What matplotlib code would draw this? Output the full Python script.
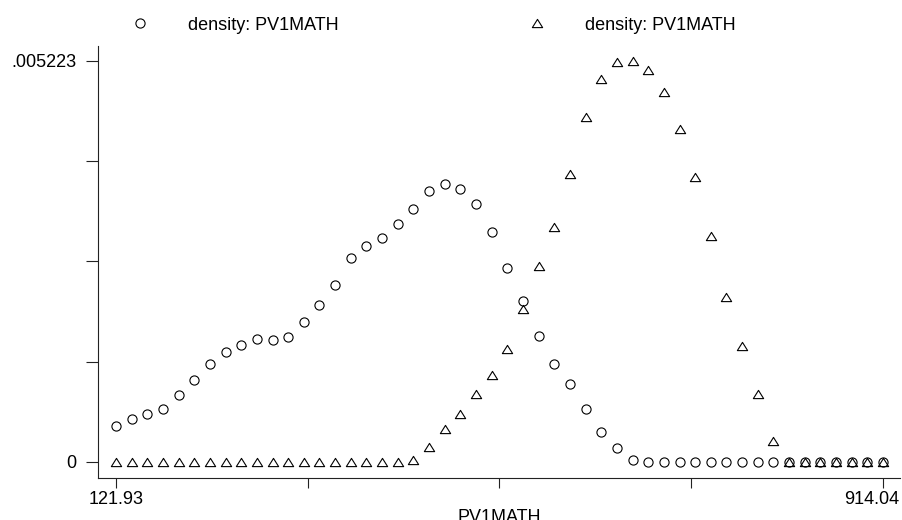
import matplotlib
matplotlib.use("Agg")
import matplotlib.pyplot as plt
import matplotlib.transforms as mtransforms
from matplotlib.path import Path
import numpy as np

plt.rcParams['font.family'] = ['Liberation Sans', 'DejaVu Sans']

# evaluation grid (50 points between min and max of PV1MATH)
x_min = 121.93
x_max = 914.04
n_points = 50
y_top = 0.005223

# density estimates
dens_circle = [
    0.000473, 0.000560, 0.000625, 0.000686, 0.000873, 0.001064, 0.001280, 0.001437,
    0.001528, 0.001602, 0.001585, 0.001628, 0.001827, 0.002041, 0.002309, 0.002657,
    0.002807, 0.002918, 0.003100, 0.003289, 0.003530, 0.003621, 0.003556, 0.003360,
    0.002996, 0.002533, 0.002101, 0.001641, 0.001276, 0.001012, 0.000690, 0.000391,
    0.000182, 0.000030, 0, 0, 0, 0, 0, 0,
    0, 0, 0, 0, 0, 0, 0, 0, 0, 0,
]
dens_triangle = [
    0, 0, 0, 0, 0, 0, 0, 0, 0, 0,
    0, 0, 0, 0, 0, 0, 0, 0, 0, 0.000026,
    0.000195, 0.000426, 0.000625, 0.000882, 0.001133, 0.001468, 0.001989, 0.002557,
    0.003057, 0.003747, 0.004490, 0.004985, 0.005210, 0.005223, 0.005106, 0.004823,
    0.004333, 0.003712, 0.002944, 0.002145, 0.001511, 0.000882, 0.000277, 0,
    0, 0, 0, 0, 0, 0,
]
labels = ["density: PV1MATH", "density: PV1MATH"]

x = np.linspace(x_min, x_max, n_points)

fig = plt.figure(figsize=(9.03, 5.2), dpi=100)
ax = fig.add_axes([98/903, 1 - 478/520, 802/903, 432/520])

tri = Path([(0, 0.8), (-1, -0.8), (1, -0.8), (0, 0.8)],
           [Path.MOVETO, Path.LINETO, Path.LINETO, Path.CLOSEPOLY])

l1, = ax.plot(x, dens_circle, linestyle='none', marker='o', ms=6.6,
              mfc='none', mec='black', mew=0.8)
l2, = ax.plot(x, dens_triangle, linestyle='none', marker=tri, ms=7.4,
              mfc='none', mec='black', mew=0.8)

xscale = (883 - 116) / (x_max - x_min)
ax.set_xlim(x_min - 18 / xscale, x_max + 17 / xscale)
yk = y_top / 401
ax.set_ylim(-16 * yk, y_top + 15 * yk)

ax.set_xticks(np.linspace(x_min, x_max, 5))
ax.set_xticklabels(["121.93", "", "", "", "914.04"])
ax.set_yticks(np.linspace(0, y_top, 5))
ax.set_yticklabels(["0", "", "", "", ".005223"])

for s in ['top', 'right']:
    ax.spines[s].set_visible(False)
for s in ['left', 'bottom']:
    ax.spines[s].set_linewidth(0.8)
    ax.spines[s].set_color('#222222')

ax.tick_params(axis='y', direction='out', length=8.6, width=0.8, pad=7,
               labelsize=13, color='#222222')
ax.tick_params(axis='x', direction='out', length=7.2, width=0.8, pad=2,
               labelsize=13, color='#222222')

# nudge the last x label left so it stays inside the figure
last = ax.get_xticklabels()[-1]
last.set_transform(last.get_transform() +
                   mtransforms.ScaledTranslation(-11.5 / 100, 0, fig.dpi_scale_trans))

ax.set_xlabel("PV1MATH", fontsize=13, labelpad=1)

fig.legend([l1, l2], labels, ncol=2, loc='center left',
           bbox_to_anchor=(122 / 903, 1 - 25 / 520), frameon=False,
           fontsize=13, handlelength=2.0, handletextpad=1.66,
           columnspacing=10.0, borderpad=0, borderaxespad=0)

fig.savefig("out.png", dpi=100)
